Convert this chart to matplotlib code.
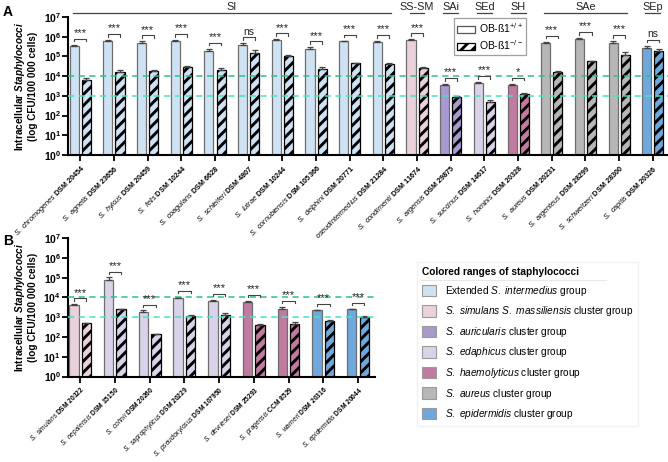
import numpy as np
import matplotlib
matplotlib.use("Agg")
import matplotlib.pyplot as plt
from matplotlib.patches import Patch
from matplotlib.lines import Line2D
from matplotlib.ticker import FixedLocator, NullLocator, FuncFormatter
import matplotlib.transforms as mtransforms

plt.rcParams['font.family'] = ['Liberation Sans', 'DejaVu Sans']
plt.rcParams['mathtext.fontset'] = 'custom'
plt.rcParams['mathtext.rm'] = 'Liberation Sans'
plt.rcParams['mathtext.it'] = 'Liberation Sans:italic'
plt.rcParams['mathtext.bf'] = 'Liberation Sans:bold'
plt.rcParams['mathtext.bfit'] = 'Liberation Sans:italic:bold'
plt.rcParams['hatch.linewidth'] = 2.1

# ---- colours of the species groups
group_colors = {
    'SI': '#cfe2f3',
    'SS': '#ead1dc',
    'SAi': '#a899cf',
    'SEd': '#d9d2e9',
    'SH': '#c27ba0',
    'SAe': '#b7b7b7',
    'SEp': '#6fa8dc',
}
group_names = [
    r"Extended $\mathit{S.\ intermedius}$ group",
    r"$\mathit{S.\ simulans\ S.\ massiliensis}$ cluster group",
    r"$\mathit{S.\ auricularis}$ cluster group",
    r"$\mathit{S.\ edaphicus}$ cluster group",
    r"$\mathit{S.\ haemolyticus}$ cluster group",
    r"$\mathit{S.\ aureus}$ cluster group",
    r"$\mathit{S.\ epidermidis}$ cluster group",
]

# ---- panel A data
a_species = ["S. chromogenes", "S. agnetis", "S. hyicus", "S. felis", "S. coagulans",
             "S. schleiferi", "S. lutrae", "S. cornubiensis", "S. delphini",
             "S. pseudintermedius", "S. condimenti", "S. argensis", "S. succinus",
             "S. hominis", "S. aureus", "S. argenteus", "S. schweitzeri", "S. capitis"]
a_strain = ["DSM 20454", "DSM 23656", "DSM 20459", "DSM 10244", "DSM 6628", "DSM 4807",
            "DSM 10244", "DSM 105366", "DSM 20771", "DSM 21284", "DSM 11674", "DSM 29875",
            "DSM 14617", "DSM 20328", "DSM 20231", "DSM 28299", "DSM 28300", "DSM 20326"]
a_group = ['SI'] * 10 + ['SS', 'SAi', 'SEd', 'SH', 'SAe', 'SAe', 'SAe', 'SEp']
a_wt = [3.5e5, 6.0e5, 4.9e5, 6.1e5, 1.9e5, 3.6e5, 7.0e5, 2.4e5, 6.1e5, 5.6e5,
        6.9e5, 3.4e3, 4.7e3, 3.6e3, 5.0e5, 7.7e5, 5.0e5, 2.7e5]
a_wt_err = [5e4, 7e4, 9e4, 5e4, 5e4, 1e5, 4e4, 5e4, 3e4, 3e4,
            4e4, 5e2, 2e2, 6e2, 4e4, 8e4, 1e5, 8e4]
a_ko = [6.5e3, 1.6e4, 1.8e4, 3.0e4, 2.0e4, 1.45e5, 1.0e5, 2.2e4, 4.5e4, 4.0e4,
        2.5e4, 9.0e2, 5.1e2, 1.2e3, 1.6e4, 5.7e4, 1.2e5, 1.9e5]
a_ko_err = [1.5e3, 4e3, 2e3, 3e3, 6e3, 6e4, 2.5e4, 7e3, 4e3, 4e3,
            4e3, 50, 100, 200, 3e3, 3e3, 5e4, 6e4]
a_sig = ["***"] * 5 + ["ns"] + ["***"] * 7 + ["*"] + ["***"] * 3 + ["ns"]
a_top = [("SI", 0, 9), ("SS-SM", 10, 10), ("SAi", 11, 11), ("SEd", 12, 12),
         ("SH", 13, 13), ("SAe", 14, 16), ("SEp", 17, 17)]

# ---- panel B data
b_species = ["S. simulans", "S. nepalensis", "S. cohnii", "S. saprophyticus",
             "S. pseudoxylosus", "S. devriesei", "S. pragensis", "S. warneri", "S. epidermidis"]
b_strain = ["DSM 20322", "DSM 15150", "DSM 20260", "DSM 20229", "DSM 107950",
            "DSM 25293", "CCM 8529", "DSM 20316", "DSM 20044"]
b_group = ['SS', 'SEd', 'SEd', 'SEd', 'SEd', 'SH', 'SH', 'SEp', 'SEp']
b_wt = [4.2e3, 7.8e4, 1.8e3, 9.4e3, 6.3e3, 6.0e3, 2.6e3, 2.2e3, 2.5e3]
b_wt_err = [3e2, 2.5e4, 4e2, 1.5e3, 1.5e3, 8e2, 8e2, 2e2, 2e2]
b_ko = [490, 2.5e3, 135, 1.2e3, 1.25e3, 420, 450, 660, 1.0e3]
b_ko_err = [30, 2e2, 10, 1e2, 3e2, 40, 120, 80, 2e2]
b_sig = ["***"] * 9

W = 0.27
OFF = 0.18


def draw_panel(ax, species, strain, groups, wt, wt_err, ko, ko_err, sig, xlim, lab_size):
    x = np.arange(len(species))
    cols = [group_colors[g] for g in groups]
    ax.bar(x - OFF, wt, width=W, color=cols, edgecolor='#6e6e6e', linewidth=0.9, zorder=2,
           yerr=[np.zeros(len(wt)), wt_err], error_kw=dict(ecolor='#444444', elinewidth=0.9,
                                                          capsize=2.5, capthick=0.9))
    ax.bar(x + OFF, ko, width=W, color=cols, edgecolor='black', linewidth=0.9, hatch='///',
           zorder=2, yerr=[np.zeros(len(ko)), ko_err],
           error_kw=dict(ecolor='#444444', elinewidth=0.9, capsize=2.5, capthick=0.9))
    ax.axhline(1e4, color='#2fbf8a', lw=1.1, ls=(0, (4, 3)), zorder=3)
    ax.axhline(1e3, color='#45e3c3', lw=1.1, ls=(0, (4, 3)), zorder=3)

    for i in range(len(species)):
        top = max(wt[i] + wt_err[i], ko[i] + ko_err[i])
        yb = 10 ** (np.log10(top) + 0.3)
        yl = yb / 10 ** 0.12
        ax.plot([i - OFF, i - OFF, i + OFF, i + OFF], [yl, yb, yb, yl], color='#444444',
                lw=0.8, zorder=4, clip_on=False)
        ax.text(i, yb * 10 ** 0.04, sig[i], ha='center', va='bottom',
                fontsize=7.5 if sig[i] == 'ns' else 8, color='#222222')

    ax.set_yscale('log')
    ax.set_ylim(1, 1e7)
    ax.set_xlim(*xlim)
    ax.yaxis.set_major_locator(FixedLocator([10.0 ** k for k in range(8)]))
    ax.yaxis.set_minor_locator(NullLocator())
    ax.yaxis.set_major_formatter(FuncFormatter(
        lambda v, p: r"$\mathbf{10^{%d}}$" % round(np.log10(v))))
    ax.set_xticks(x)
    labels = [r"$\mathit{%s}$ $\mathbf{%s}$" % (s.replace(" ", r"\ "), d.replace(" ", r"\ "))
              for s, d in zip(species, strain)]
    ax.set_xticklabels(labels, rotation=45, ha='right', rotation_mode='anchor',
                       fontsize=lab_size)
    ax.tick_params(axis='y', labelsize=7.5, length=4, width=1.3, pad=1)
    ax.tick_params(axis='x', length=4, width=1.3, pad=2)
    for s in ['top', 'right']:
        ax.spines[s].set_visible(False)
    for s in ['left', 'bottom']:
        ax.spines[s].set_linewidth(1.5)
    ax.set_ylabel(r"Intracellular $\mathbfit{Staphylococci}$" + "\n(log CFU/100 000 cells)",
                  fontsize=7.2, fontweight='bold', labelpad=4, linespacing=1.1)


fig = plt.figure(figsize=(6.68, 4.62), dpi=100)
axA = fig.add_axes([0.1025, 0.6645, 0.8975, 0.2987])
axB = fig.add_axes([0.1018, 0.185, 0.4596, 0.2994])

draw_panel(axA, a_species, a_strain, a_group, a_wt, a_wt_err, a_ko, a_ko_err, a_sig,
           (-0.35, 17.45), 5.2)
draw_panel(axB, b_species, b_strain, b_group, b_wt, b_wt_err, b_ko, b_ko_err, b_sig,
           (-0.35, 8.49), 4.75)

# group labels above panel A
trans = mtransforms.blended_transform_factory(axA.transData, axA.transAxes)
for name, i0, i1 in a_top:
    axA.plot([i0 - 0.22, i1 + 0.22], [1.03, 1.03], color='#444444', lw=0.9,
             transform=trans, clip_on=False)
    axA.text((i0 + i1) / 2, 1.05, name, ha='center', va='baseline', fontsize=7.8,
             transform=trans, color='#222222')

# genotype legend in panel A
leg_a = axA.legend(
    handles=[Patch(facecolor='white', edgecolor='#555555', lw=0.9),
             Patch(facecolor='white', edgecolor='black', lw=0.9, hatch='///')],
    labels=[r"OB-ß1$^{+/+}$", r"OB-ß1$^{-/-}$"],
    loc='upper left', bbox_to_anchor=(0.643, 0.99), fontsize=7.5, frameon=True,
    fancybox=False, edgecolor='#888888', handlelength=1.7, handleheight=0.6,
    handletextpad=0.4, borderpad=0.3, labelspacing=0.3, borderaxespad=0)
leg_a.get_frame().set_linewidth(0.9)

# colour legend
leg_b = fig.legend(
    handles=[Patch(facecolor=group_colors[k], edgecolor='#9a9a9a', lw=0.8)
             for k in ['SI', 'SS', 'SAi', 'SEd', 'SH', 'SAe', 'SEp']],
    labels=group_names, loc='upper left', bbox_to_anchor=(0.624, 0.433),
    title='Colored ranges of staphylococci', title_fontproperties={'weight': 'bold', 'size': 7.3},
    alignment='left', fontsize=7.3, frameon=True, fancybox=False, edgecolor='#eeeeee',
    handlelength=1.35, handleheight=1.35, labelspacing=0.65, handletextpad=0.9,
    borderpad=0.5, borderaxespad=0)
fig.add_artist(Line2D([421 / 668, 606 / 668], [1 - 280 / 462] * 2, color='#8a8a8a', lw=0.8))

fig.text(0.004, 0.975, "A", fontsize=10, fontweight='bold', va='center')
fig.text(0.004, 0.478, "B", fontsize=10, fontweight='bold', va='center')

fig.savefig("out.png", dpi=100)
